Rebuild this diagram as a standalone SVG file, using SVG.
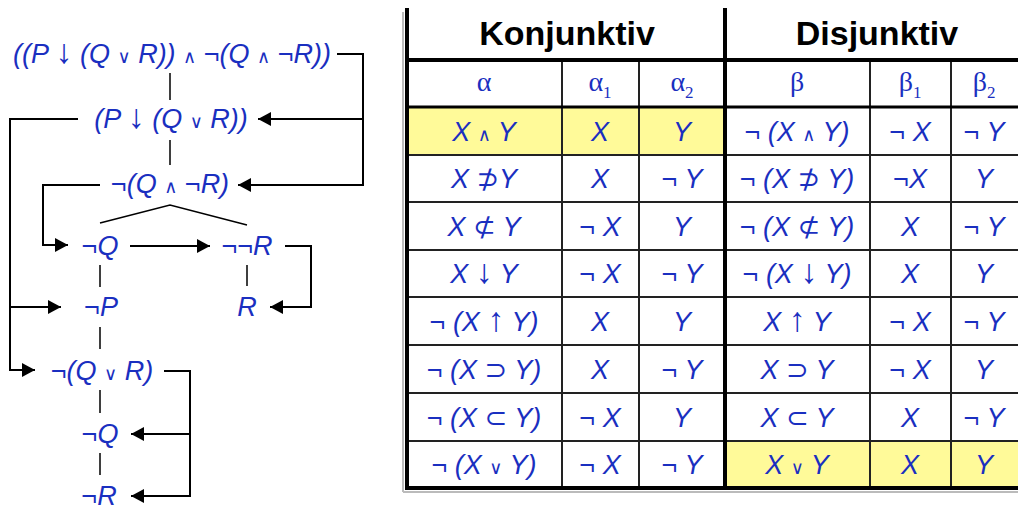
<svg xmlns="http://www.w3.org/2000/svg" width="1018" height="509" viewBox="0 0 1018 509">
<style>
.t{font-family:"Liberation Sans","DejaVu Sans",sans-serif;font-style:italic;fill:#1a2fc0;font-size:27px;text-anchor:middle}
.u{font-style:normal}
.ar{font-style:normal;font-family:"Liberation Sans","DejaVu Sans",sans-serif;font-size:34px}
.sm{font-style:normal;font-size:18px}
.g{font-family:"Liberation Serif","DejaVu Serif",serif;fill:#1a2fc0;font-size:28px;text-anchor:middle}
.h{font-family:"Liberation Sans",Arial,sans-serif;font-weight:bold;font-size:34px;fill:#000;text-anchor:middle}
.c{fill:none;stroke:#000;stroke-width:2}
.k{fill:none;stroke:#000;stroke-width:1.5}
.thick{stroke:#000;stroke-width:4}
.row{stroke:#222;stroke-width:2}
</style>
<defs>
<marker id="ah" markerWidth="13" markerHeight="14" refX="13" refY="7" orient="auto" markerUnits="userSpaceOnUse"><path d="M0,0 L13,7 L0,14 z" fill="#000"/></marker>
</defs>
<rect width="1018" height="509" fill="#fff"/>

<!-- tree nodes -->
<g id="n1"><text class="t" x="172" y="63">((P <tspan class="ar">↓</tspan> (Q <tspan class="sm">∨</tspan> R)) <tspan class="sm">∧</tspan> <tspan class="u">¬</tspan>(Q <tspan class="sm">∧</tspan> <tspan class="u">¬</tspan>R))</text></g>
<g id="n2"><text class="t" x="171" y="128">(P <tspan class="ar">↓</tspan> (Q <tspan class="sm">∨</tspan> R))</text></g>
<g id="n3"><text class="t" x="170" y="193"><tspan class="u">¬</tspan>(Q <tspan class="sm">∧</tspan> <tspan class="u">¬</tspan>R)</text></g>
<g id="n4"><text class="t" x="100" y="255"><tspan class="u">¬</tspan>Q</text></g>
<g id="n5"><text class="t" x="247" y="255"><tspan class="u">¬¬</tspan>R</text></g>
<g id="n6"><text class="t" x="101" y="316"><tspan class="u">¬</tspan>P</text></g>
<g id="n7"><text class="t" x="247" y="316">R</text></g>
<g id="n8"><text class="t" x="102" y="380"><tspan class="u">¬</tspan>(Q <tspan class="sm">∨</tspan> R)</text></g>
<g id="n9"><text class="t" x="100" y="443"><tspan class="u">¬</tspan>Q</text></g>
<g id="n10"><text class="t" x="99" y="505"><tspan class="u">¬</tspan>R</text></g>

<!-- connectors -->
<g id="connectors">
<path class="c" d="M337,54 H363 V185 H238" marker-end="url(#ah)"/>
<path class="c" d="M363,119 H258" marker-end="url(#ah)"/>
<path class="c" d="M78,119 H10 V370 H35" marker-end="url(#ah)"/>
<path class="c" d="M10,307 H61" marker-end="url(#ah)"/>
<path class="c" d="M100,185 H43 V245 H68" marker-end="url(#ah)"/>
<path class="c" d="M130,246 H210" marker-end="url(#ah)"/>
<path class="c" d="M285,246 H311 V307 H270" marker-end="url(#ah)"/>
<path class="c" d="M164,371 H190 V496 H131" marker-end="url(#ah)"/>
<path class="c" d="M190,434 H131" marker-end="url(#ah)"/>
<path class="k" d="M170,73 V100 M170,140 V165 M100,223 L170,205 L247,225 M100,265 V287 M247,265 V286 M100,327 V349 M100,390 V413 M100,453 V475"/>
</g>

<!-- table -->
<g id="table">
<rect x="407" y="107" width="318" height="48" fill="#fffa99"/>
<rect x="725" y="441" width="293" height="47" fill="#fffa99"/>
<line x1="403" y1="12" x2="403" y2="492" stroke="#bbb" stroke-width="2"/>
<line x1="403" y1="492" x2="1018" y2="492" stroke="#bbb" stroke-width="2"/>
<g class="row">
<line x1="407" y1="155" x2="1018" y2="155"/>
<line x1="407" y1="202" x2="1018" y2="202"/>
<line x1="407" y1="250" x2="1018" y2="250"/>
<line x1="407" y1="297" x2="1018" y2="297"/>
<line x1="407" y1="345" x2="1018" y2="345"/>
<line x1="407" y1="393" x2="1018" y2="393"/>
<line x1="407" y1="441" x2="1018" y2="441"/>
<line x1="562" y1="60" x2="562" y2="488"/>
<line x1="639" y1="60" x2="639" y2="488"/>
<line x1="870" y1="60" x2="870" y2="488"/>
<line x1="951" y1="60" x2="951" y2="488"/>
</g>
<line x1="405" y1="107" x2="1018" y2="107" stroke="#000" stroke-width="3"/>
<line class="thick" x1="405" y1="60" x2="1018" y2="60"/>
<line class="thick" x1="405" y1="488" x2="1018" y2="488"/>
<line class="thick" x1="407" y1="8" x2="407" y2="490"/>
<line class="thick" x1="725" y1="8" x2="725" y2="490"/>

<text class="h" x="567" y="45">Konjunktiv</text>
<text class="h" x="877" y="45">Disjunktiv</text>

<text class="g" x="484" y="91">α</text>
<text class="g" x="600" y="91">α<tspan dy="7" font-size="17">1</tspan></text>
<text class="g" x="682" y="91">α<tspan dy="7" font-size="17">2</tspan></text>
<text class="g" x="797" y="91">β</text>
<text class="g" x="910" y="91">β<tspan dy="7" font-size="17">1</tspan></text>
<text class="g" x="984" y="91">β<tspan dy="7" font-size="17">2</tspan></text>

<!-- row 1 -->
<text class="t" x="484" y="141">X <tspan class="sm">∧</tspan> Y</text>
<text class="t" x="600" y="141">X</text>
<text class="t" x="682" y="141">Y</text>
<text class="t" x="797" y="141"><tspan class="u">¬</tspan> (X <tspan class="sm">∧</tspan> Y)</text>
<text class="t" x="910" y="141"><tspan class="u">¬</tspan> X</text>
<text class="t" x="984" y="141"><tspan class="u">¬</tspan> Y</text>
<!-- row 2 -->
<text class="t" x="484" y="188">X <tspan class="u">⊅</tspan>Y</text>
<text class="t" x="600" y="188">X</text>
<text class="t" x="682" y="188"><tspan class="u">¬</tspan> Y</text>
<text class="t" x="797" y="188"><tspan class="u">¬</tspan> (X <tspan class="u">⊅</tspan> Y)</text>
<text class="t" x="910" y="188"><tspan class="u">¬</tspan>X</text>
<text class="t" x="984" y="188">Y</text>
<!-- row 3 -->
<text class="t" x="484" y="236">X <tspan class="u">⊄</tspan> Y</text>
<text class="t" x="600" y="236"><tspan class="u">¬</tspan> X</text>
<text class="t" x="682" y="236">Y</text>
<text class="t" x="797" y="236"><tspan class="u">¬</tspan> (X <tspan class="u">⊄</tspan> Y)</text>
<text class="t" x="910" y="236">X</text>
<text class="t" x="984" y="236"><tspan class="u">¬</tspan> Y</text>
<!-- row 4 -->
<text class="t" x="484" y="283">X <tspan class="ar">↓</tspan> Y</text>
<text class="t" x="600" y="283"><tspan class="u">¬</tspan> X</text>
<text class="t" x="682" y="283"><tspan class="u">¬</tspan> Y</text>
<text class="t" x="797" y="283"><tspan class="u">¬</tspan> (X <tspan class="ar">↓</tspan> Y)</text>
<text class="t" x="910" y="283">X</text>
<text class="t" x="984" y="283">Y</text>
<!-- row 5 -->
<text class="t" x="484" y="331"><tspan class="u">¬</tspan> (X <tspan class="ar">↑</tspan> Y)</text>
<text class="t" x="600" y="331">X</text>
<text class="t" x="682" y="331">Y</text>
<text class="t" x="797" y="331">X <tspan class="ar">↑</tspan> Y</text>
<text class="t" x="910" y="331"><tspan class="u">¬</tspan> X</text>
<text class="t" x="984" y="331"><tspan class="u">¬</tspan> Y</text>
<!-- row 6 -->
<text class="t" x="484" y="379"><tspan class="u">¬</tspan> (X <tspan class="u">⊃</tspan> Y)</text>
<text class="t" x="600" y="379">X</text>
<text class="t" x="682" y="379"><tspan class="u">¬</tspan> Y</text>
<text class="t" x="797" y="379">X <tspan class="u">⊃</tspan> Y</text>
<text class="t" x="910" y="379"><tspan class="u">¬</tspan> X</text>
<text class="t" x="984" y="379">Y</text>
<!-- row 7 -->
<text class="t" x="484" y="427"><tspan class="u">¬</tspan> (X <tspan class="u">⊂</tspan> Y)</text>
<text class="t" x="600" y="427"><tspan class="u">¬</tspan> X</text>
<text class="t" x="682" y="427">Y</text>
<text class="t" x="797" y="427">X <tspan class="u">⊂</tspan> Y</text>
<text class="t" x="910" y="427">X</text>
<text class="t" x="984" y="427"><tspan class="u">¬</tspan> Y</text>
<!-- row 8 -->
<text class="t" x="484" y="474"><tspan class="u">¬</tspan> (X <tspan class="sm">∨</tspan> Y)</text>
<text class="t" x="600" y="474"><tspan class="u">¬</tspan> X</text>
<text class="t" x="682" y="474"><tspan class="u">¬</tspan> Y</text>
<text class="t" x="797" y="474">X <tspan class="sm">∨</tspan> Y</text>
<text class="t" x="910" y="474">X</text>
<text class="t" x="984" y="474">Y</text>
</g>
</svg>
